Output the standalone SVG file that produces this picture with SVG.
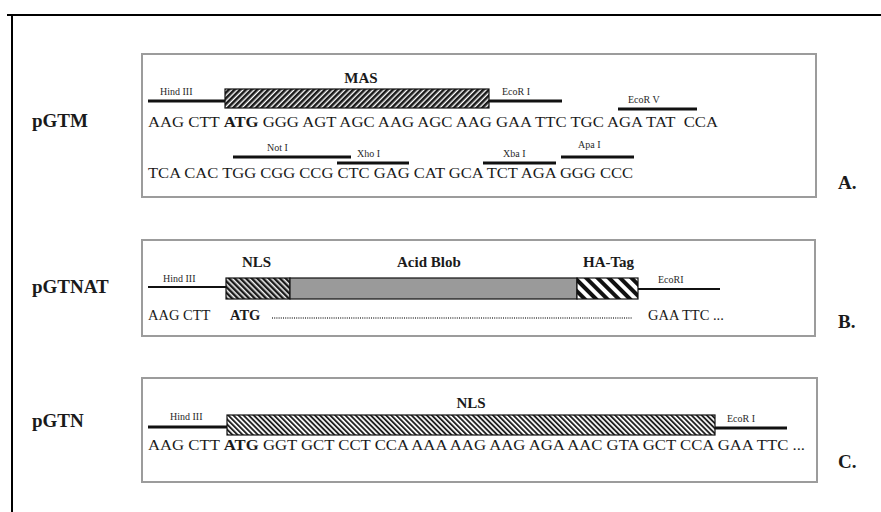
<svg xmlns="http://www.w3.org/2000/svg" width="881" height="512" viewBox="0 0 881 512">
<defs>
<style>
.seq{font-family:"Liberation Serif","Times New Roman",serif;font-size:14.5px;fill:#1a1a1a}
.b{font-weight:bold}
.site{font-family:"Liberation Serif","Times New Roman",serif;font-size:10px;fill:#2a2a2a}
.feat{font-family:"Liberation Serif","Times New Roman",serif;font-size:15px;font-weight:bold;fill:#1a1a1a}
.name{font-family:"Liberation Serif","Times New Roman",serif;font-size:19px;font-weight:bold;fill:#1a1a1a}
.panel{fill:#fff;stroke:#9c9c9c;stroke-width:2}
.site-line{stroke:#111;stroke-width:3}
.thin{stroke:#111;stroke-width:2.2}
.box{stroke:#111;stroke-width:1.2}
</style>
<pattern id="hatchF" patternUnits="userSpaceOnUse" width="4" height="4" patternTransform="rotate(45)">
<rect width="4" height="4" fill="#fff"/>
<rect width="2.6" height="4" fill="#1a1a1a"/>
</pattern>
<pattern id="hatchB" patternUnits="userSpaceOnUse" width="3.6" height="3.6" patternTransform="rotate(-45)">
<rect width="3.6" height="3.6" fill="#fff"/>
<rect width="1.9" height="3.6" fill="#222"/>
</pattern>
<pattern id="hatchN" patternUnits="userSpaceOnUse" width="4" height="4" patternTransform="rotate(-45)">
<rect width="4" height="4" fill="#eee"/>
<rect width="2.4" height="4" fill="#1a1a1a"/>
</pattern>
<pattern id="hatchHA" patternUnits="userSpaceOnUse" width="8" height="8" patternTransform="rotate(-45)">
<rect width="8" height="8" fill="#fff"/>
<rect width="4" height="8" fill="#111"/>
</pattern>
</defs>
<rect width="881" height="512" fill="#fff"/>
<g id="frame">
<line x1="7" y1="15" x2="881" y2="15" stroke="#000" stroke-width="2"/>
<line x1="12" y1="15" x2="12" y2="512" stroke="#000" stroke-width="2"/>
</g>
<g id="names">
<text class="name" x="32" y="127">pGTM</text>
<text class="name" x="32" y="293">pGTNAT</text>
<text class="name" x="32" y="427">pGTN</text>
<text class="name" x="838" y="189" font-size="17">A.</text>
<text class="name" x="838" y="328" font-size="17">B.</text>
<text class="name" x="838" y="468" font-size="17">C.</text>
</g>
<g id="panel-a">
<rect class="panel" x="142" y="54" width="674" height="143"/>
<text class="site" x="160" y="95">Hind III</text>
<line class="site-line" x1="148" y1="101" x2="226" y2="101"/>
<rect class="box" x="225" y="89" width="264" height="19" fill="url(#hatchF)"/>
<text class="feat" x="361" y="83" text-anchor="middle">MAS</text>
<text class="site" x="502" y="95">EcoR I</text>
<line class="site-line" x1="489" y1="101" x2="562" y2="101"/>
<text class="site" x="628" y="103">EcoR V</text>
<line class="site-line" x1="618" y1="109" x2="697" y2="109"/>
<text class="seq" x="148" y="127" textLength="570" lengthAdjust="spacingAndGlyphs">AAG CTT <tspan class="b">ATG</tspan> GGG AGT AGC AAG AGC AAG GAA TTC TGC AGA TAT&#160; CCA</text>
<text class="site" x="267" y="151">Not I</text>
<line class="site-line" x1="233" y1="157" x2="351" y2="157"/>
<text class="site" x="357" y="157">Xho I</text>
<line class="site-line" x1="337" y1="163" x2="409" y2="163"/>
<text class="site" x="503" y="157">Xba I</text>
<line class="site-line" x1="483" y1="163" x2="556" y2="163"/>
<text class="site" x="578" y="148">Apa I</text>
<line class="site-line" x1="561" y1="157" x2="634" y2="157"/>
<text class="seq" x="148" y="178" textLength="485" lengthAdjust="spacingAndGlyphs">TCA CAC TGG CGG CCG CTC GAG CAT GCA TCT AGA GGG CCC</text>
</g>
<g id="panel-b">
<rect class="panel" x="142" y="240" width="673" height="96"/>
<text class="site" x="163" y="282">Hind III</text>
<line class="thin" x1="148" y1="287" x2="227" y2="287"/>
<text class="feat" x="242" y="267">NLS</text>
<text class="feat" x="397" y="267">Acid Blob</text>
<text class="feat" x="583" y="267">HA-Tag</text>
<rect class="box" x="226" y="278" width="64" height="21" fill="url(#hatchN)"/>
<rect class="box" x="290" y="278" width="287" height="21" fill="#9a9a9a"/>
<rect class="box" x="577" y="278" width="61" height="21" fill="url(#hatchHA)"/>
<text class="site" x="658" y="283">EcoRI</text>
<line class="thin" x1="638" y1="289" x2="720" y2="289"/>
<text class="seq" x="148" y="320">AAG CTT</text>
<text class="seq b" x="230" y="320">ATG</text>
<line x1="272" y1="318" x2="632" y2="318" stroke="#444" stroke-width="1.3" stroke-dasharray="1 1.2"/>
<text class="seq" x="648" y="320">GAA TTC ...</text>
</g>
<g id="panel-c">
<rect class="panel" x="142" y="378" width="675" height="104"/>
<text class="site" x="170" y="420">Hind III</text>
<line class="site-line" x1="148" y1="427" x2="228" y2="427"/>
<rect class="box" x="227" y="415" width="488" height="20" fill="url(#hatchB)"/>
<text class="feat" x="471" y="408" text-anchor="middle">NLS</text>
<text class="site" x="727" y="422">EcoR I</text>
<line class="site-line" x1="715" y1="428" x2="787" y2="428"/>
<text class="seq" x="148" y="450" textLength="657" lengthAdjust="spacingAndGlyphs">AAG CTT <tspan class="b">ATG</tspan> GGT GCT CCT CCA AAA AAG AAG AGA AAC GTA GCT CCA GAA TTC ...</text>
</g>
<g id="connectors"/>
</svg>
